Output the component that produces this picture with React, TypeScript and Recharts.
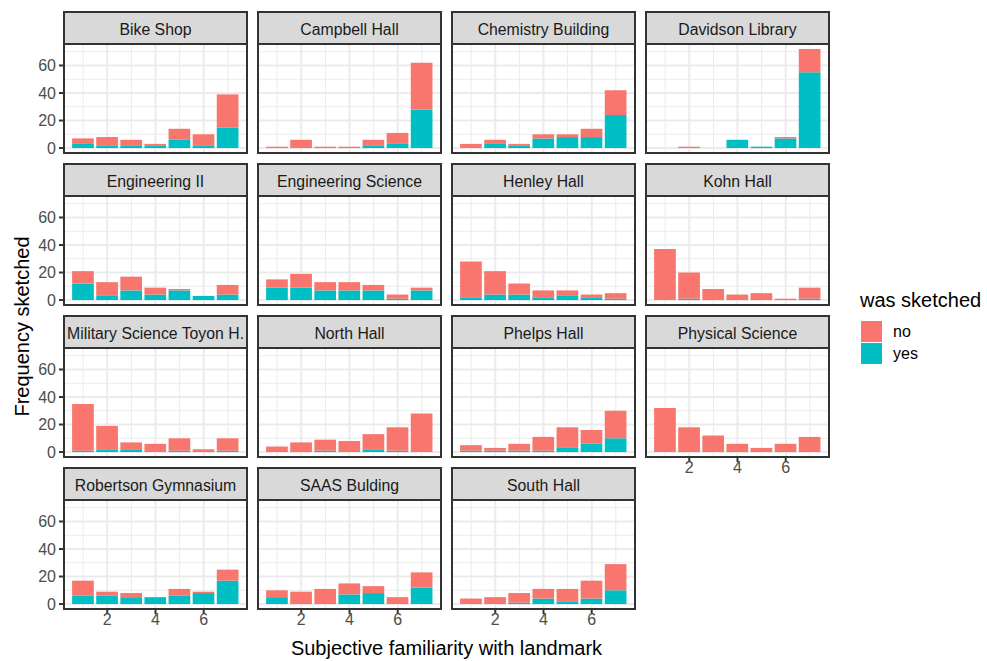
import React from 'react';
import { BarChart, Bar, XAxis, YAxis, CartesianGrid } from 'recharts';

// Familiarity rating (x) shared by all facets
const FAMILIARITY = [1, 2, 3, 4, 5, 6, 7];

// Facet titles, in facet_wrap order
const LANDMARKS = [
  'Bike Shop',
  'Campbell Hall',
  'Chemistry Building',
  'Davidson Library',
  'Engineering II',
  'Engineering Science',
  'Henley Hall',
  'Kohn Hall',
  'Military Science Toyon H.',
  'North Hall',
  'Phelps Hall',
  'Physical Science',
  'Robertson Gymnasium',
  'SAAS Bulding',
  'South Hall',
];

// Counts of respondents who sketched the landmark, per familiarity level
const YES_COUNTS = [
  [3, 2, 2, 2, 6, 2, 15],
  [0, 0, 0, 0, 2, 3, 28],
  [0, 3, 2, 7, 8, 8, 24],
  [0, 0, 0, 6, 1, 7, 55],
  [12, 3, 7, 4, 7, 3, 4],
  [9, 9, 7, 7, 7, 1, 7],
  [2, 4, 4, 2, 3, 2, 1],
  [0, 1, 0, 0, 0, 0, 1],
  [1, 2, 2, 0, 1, 0, 1],
  [0, 0, 1, 0, 2, 1, 0],
  [1, 1, 1, 1, 3, 6, 10],
  [0, 0, 0, 0, 0, 0, 0],
  [6, 6, 5, 5, 6, 8, 17],
  [5, 0, 0, 7, 8, 0, 12],
  [0, 0, 1, 4, 2, 4, 10],
];

// Counts of respondents who did not sketch the landmark
const NO_COUNTS = [
  [4, 6, 4, 1, 8, 8, 24],
  [1, 6, 1, 1, 4, 8, 34],
  [3, 3, 1, 3, 2, 6, 18],
  [0, 1, 0, 0, 0, 1, 17],
  [9, 10, 10, 5, 1, 0, 7],
  [6, 10, 6, 6, 4, 3, 2],
  [26, 17, 8, 5, 4, 2, 4],
  [37, 19, 8, 4, 5, 1, 8],
  [34, 17, 5, 6, 9, 2, 9],
  [4, 7, 8, 8, 11, 17, 28],
  [4, 2, 5, 10, 15, 10, 20],
  [32, 18, 12, 6, 3, 6, 11],
  [11, 3, 3, 0, 5, 1, 8],
  [5, 9, 11, 8, 5, 5, 11],
  [4, 5, 7, 7, 9, 13, 19],
];

const LEGEND_ITEMS = [
  { key: 'no', label: 'no', color: '#F8766D' },
  { key: 'yes', label: 'yes', color: '#00BFC4' },
];
const COLOR_YES = '#00BFC4';
const COLOR_NO = '#F8766D';

const Y_TICKS = [0, 20, 40, 60];
const Y_MINOR = [10, 30, 50, 70];
const X_TICKS = [2, 4, 6];
const X_MINOR = [1, 3, 5, 7];

// Layout
const NCOL = 4;
const PANEL_W = 183;
const PANEL_H = 109;
const COL_PITCH = 194;
const ROW_PITCH = 152;
const PANEL_X0 = 64;
const PANEL_Y0 = 44;
const STRIP_H = 32;
const Y_AXIS_W = 40;
const X_AXIS_H = 30;
const FONT = '"Liberation Sans", Arial, sans-serif';

// Shared scales with ggplot-style 5% expansion
const maxTotal = Math.max(
  ...YES_COUNTS.map((ys, i) => Math.max(...ys.map((y, j) => y + NO_COUNTS[i][j])))
);
const Y_DOMAIN: [number, number] = [-0.05 * maxTotal, 1.05 * maxTotal];
const BAR_UNITS = 0.9;
const xLo = FAMILIARITY[0] - BAR_UNITS / 2;
const xHi = FAMILIARITY[FAMILIARITY.length - 1] + BAR_UNITS / 2;
const xPad = 0.05 * (xHi - xLo);
const X_DOMAIN: [number, number] = [xLo - xPad, xHi + xPad];
const BAR_SIZE = (PANEL_W * BAR_UNITS) / (X_DOMAIN[1] - X_DOMAIN[0]);

function Facet({ index }: { index: number }) {
  const col = index % NCOL;
  const row = Math.floor(index / NCOL);
  const panelLeft = PANEL_X0 + col * COL_PITCH;
  const panelTop = PANEL_Y0 + row * ROW_PITCH;
  const showY = col === 0;
  const showX = index + NCOL >= LANDMARKS.length;
  const data = FAMILIARITY.map((f, j) => ({
    familiarity: f,
    yes: YES_COUNTS[index][j],
    no: NO_COUNTS[index][j],
  }));
  const chartLeft = panelLeft - (showY ? Y_AXIS_W : 0);
  const chartW = PANEL_W + (showY ? Y_AXIS_W : 0);
  const chartH = PANEL_H + (showX ? X_AXIS_H : 0);

  return (
    <>
      <svg
        style={{ position: 'absolute', left: panelLeft - 2, top: panelTop - STRIP_H - 2 }}
        width={PANEL_W + 4}
        height={STRIP_H + 4}
      >
        <rect x={2} y={2} width={PANEL_W} height={STRIP_H} fill="#D9D9D9" stroke="#333333" strokeWidth={2} />
        <text
          x={2 + PANEL_W / 2}
          y={2 + 23}
          textAnchor="middle"
          fontFamily={FONT}
          fontSize={15.8}
          fill="#1A1A1A"
        >
          {LANDMARKS[index]}
        </text>
      </svg>
      <div style={{ position: 'absolute', left: chartLeft, top: panelTop }}>
        <BarChart
          width={chartW}
          height={chartH}
          data={data}
          margin={{ top: 0, right: 0, bottom: 0, left: 0 }}
          barGap={0}
        >
          <CartesianGrid
            horizontalValues={Y_MINOR}
            verticalValues={X_MINOR}
            stroke="#EBEBEB"
            strokeWidth={1}
          />
          <CartesianGrid
            horizontalValues={Y_TICKS}
            verticalValues={X_TICKS}
            stroke="#EBEBEB"
            strokeWidth={2}
          />
          <XAxis
            type="number"
            dataKey="familiarity"
            domain={X_DOMAIN}
            ticks={X_TICKS}
            allowDataOverflow
            interval={0}
            hide={!showX}
            height={X_AXIS_H}
            tickSize={5}
            tickMargin={0}
            axisLine={false}
            tickLine={{ stroke: '#333333', strokeWidth: 2 }}
            tick={{ fill: '#4D4D4D', fontSize: 16, fontFamily: FONT }}
          />
          <YAxis
            type="number"
            domain={Y_DOMAIN}
            ticks={Y_TICKS}
            allowDataOverflow
            interval={0}
            hide={!showY}
            width={Y_AXIS_W}
            tickSize={5}
            tickMargin={3}
            axisLine={false}
            tickLine={{ stroke: '#333333', strokeWidth: 2 }}
            tick={{ fill: '#4D4D4D', fontSize: 16, fontFamily: FONT }}
          />
          <Bar dataKey="yes" stackId="s" fill={COLOR_YES} barSize={BAR_SIZE} isAnimationActive={false} />
          <Bar dataKey="no" stackId="s" fill={COLOR_NO} barSize={BAR_SIZE} isAnimationActive={false} />
        </BarChart>
      </div>
      <svg
        style={{ position: 'absolute', left: panelLeft - 2, top: panelTop - 2, pointerEvents: 'none' }}
        width={PANEL_W + 4}
        height={PANEL_H + 4}
      >
        <rect x={2} y={2} width={PANEL_W} height={PANEL_H} fill="none" stroke="#333333" strokeWidth={2} />
      </svg>
    </>
  );
}

export default function App() {
  const panelsRight = PANEL_X0 + (NCOL - 1) * COL_PITCH + PANEL_W;
  const nRows = Math.ceil(LANDMARKS.length / NCOL);
  const panelsBottom = PANEL_Y0 + (nRows - 1) * ROW_PITCH + PANEL_H;
  return (
    <div
      style={{
        position: 'absolute',
        left: 0,
        top: 0,
        width: 987,
        height: 661,
        background: '#FFFFFF',
        fontFamily: FONT,
        overflow: 'hidden',
      }}
    >
      <style>{`.recharts-wrapper, .recharts-surface { overflow: visible !important; }`}</style>
      {LANDMARKS.map((_, i) => (
        <Facet key={i} index={i} />
      ))}
      <svg style={{ position: 'absolute', left: 0, top: 0, pointerEvents: 'none' }} width={987} height={661}>
        <text
          x={(PANEL_X0 + panelsRight) / 2}
          y={655}
          textAnchor="middle"
          fontFamily={FONT}
          fontSize={20}
          fill="#000000"
        >
          Subjective familiarity with landmark
        </text>
        <text
          transform={`translate(29, ${(PANEL_Y0 + panelsBottom) / 2}) rotate(-90)`}
          textAnchor="middle"
          fontFamily={FONT}
          fontSize={20}
          fill="#000000"
        >
          Frequency sketched
        </text>
        <text x={860} y={307} fontFamily={FONT} fontSize={20} fill="#000000">
          was sketched
        </text>
        {LEGEND_ITEMS.map((item, i) => (
          <g key={item.key}>
            <rect x={861} y={321 + i * 22} width={21} height={21} fill={item.color} />
            <text x={893} y={321 + i * 22 + 16} fontFamily={FONT} fontSize={16} fill="#000000">
              {item.label}
            </text>
          </g>
        ))}
      </svg>
    </div>
  );
}
